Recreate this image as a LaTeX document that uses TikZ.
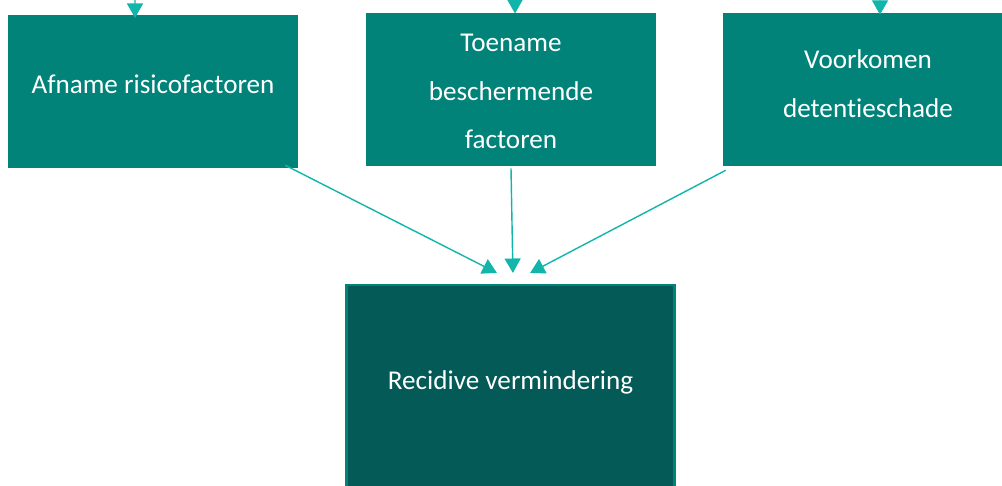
\documentclass[tikz,border=0pt]{standalone}
\usepackage{fontspec}
\setmainfont{Carlito}[Ligatures=NoCommon]
\usepackage{tikz}
\usetikzlibrary{positioning, arrows.meta}
\definecolor{boxteal}{HTML}{02837A}
\definecolor{boxdark}{HTML}{035A57}
\definecolor{arrowteal}{HTML}{12B5AA}
\tikzset{
  factor/.style={fill=boxteal, minimum width=7.25cm, minimum height=3.825cm, inner sep=0pt},
  result/.style={fill=boxdark, draw=boxteal, line width=1.5pt, minimum width=8.2cm, minimum height=5.5cm, inner sep=0pt},
  boxtext/.style={text=white, align=center, inner sep=0pt, font=\fontsize{19.3}{34.5}\selectfont},
  link/.style={draw=arrowteal, line width=1pt, -{Triangle[length=0.36cm, width=0.4cm]}}
}

\begin{document}
\begin{tikzpicture}[x=0.025cm, y=-0.025cm]
\useasboundingbox (0,0) rectangle (1002,486);
% boxes
\node[factor] (afname) at (153,91.5) {};
\node[factor] (toename) at (511,89.5) {};
\node[factor] (voorkomen) at (868,89.5) {};
\node[result] (recidive) at (510.5,395) {};
\node[boxtext] (afnametxt) at (153,84) {Afname risicofactoren};
\node[boxtext] (toenametxt) at (511,91.5) {Toename\\beschermende\\factoren};
\node[boxtext] (voorkomentxt) at (868,83.5) {Voorkomen\\detentieschade};
\node[boxtext] (recidivetxt) at (510.5,382) {Recidive vermindering};
% incoming from above
\coordinate (inA) at (135,-5);
\coordinate (inB) at (515,-5);
\coordinate (inC) at (880,-5);
\draw[link] (inA) -- ([xshift=-0.45cm, yshift=-0.08cm]afname.north);
\draw[link] (inB) -- ([xshift=0.1cm, yshift=-0.02cm]toename.north);
\draw[link] (inC) -- ([xshift=0.3cm, yshift=-0.05cm]voorkomen.north);
% towards the result
\draw[link] ([xshift=-0.325cm, yshift=0.075cm]afname.south east) -- ([xshift=-0.34cm, yshift=0.275cm]recidive.north);
\draw[link] ([yshift=-0.05cm]toename.south) -- ([xshift=0.06cm, yshift=0.275cm]recidive.north);
\draw[link] ([xshift=0.075cm, yshift=-0.1cm]voorkomen.south west) -- ([xshift=0.49cm, yshift=0.275cm]recidive.north);
\end{tikzpicture}
\end{document}
